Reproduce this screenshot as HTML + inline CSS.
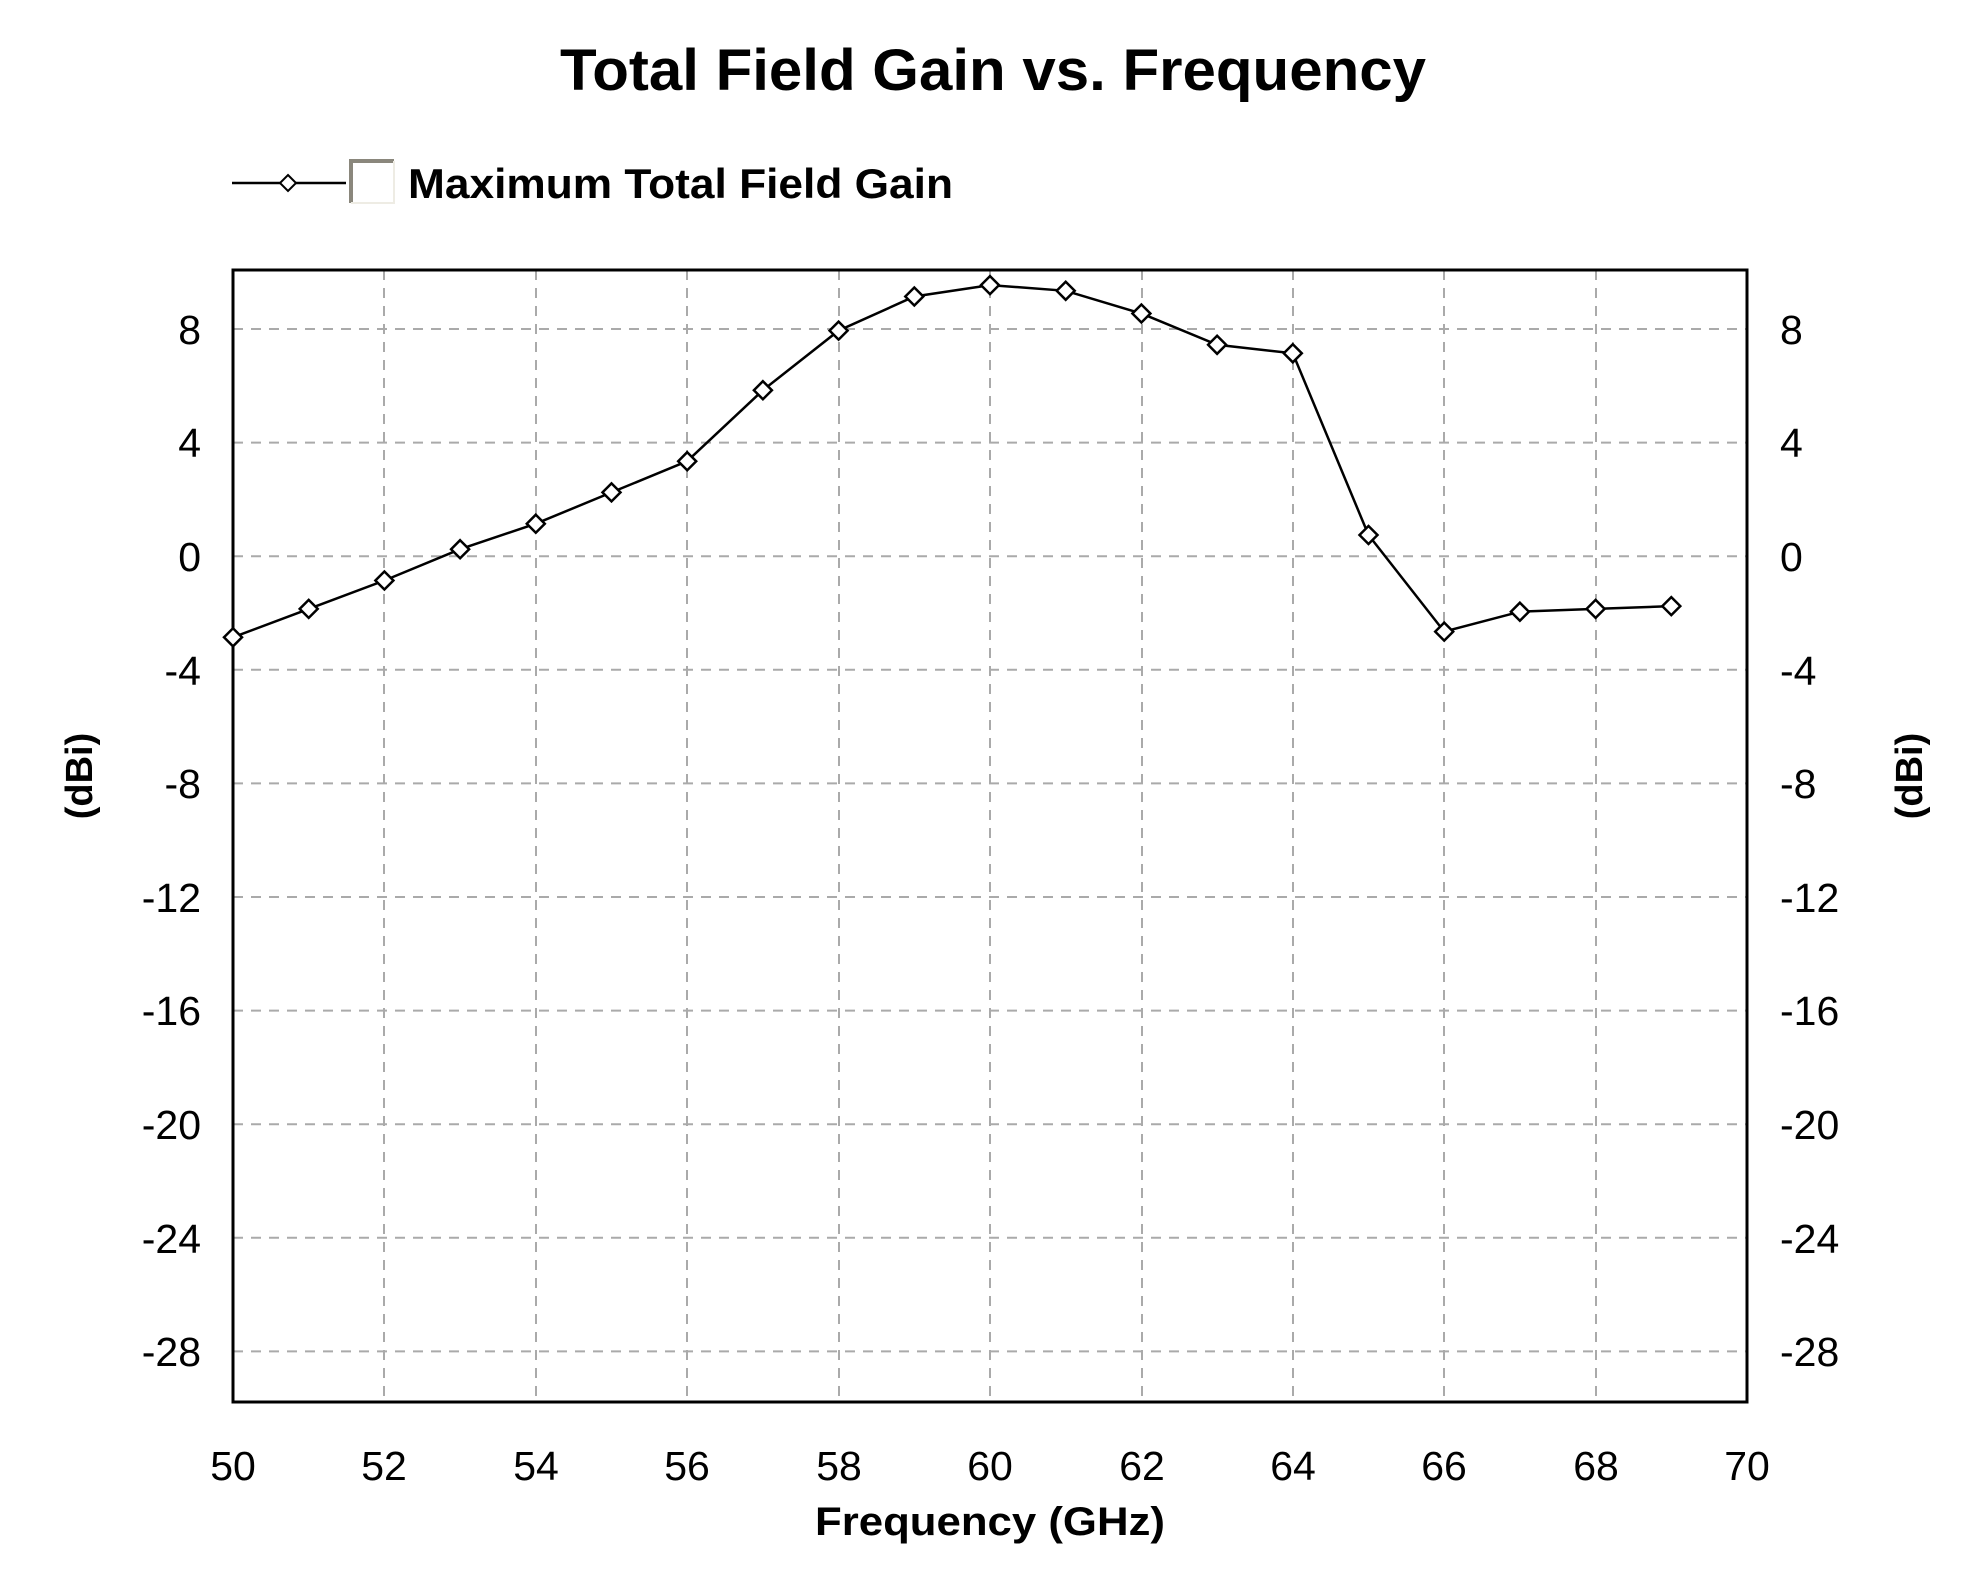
<!DOCTYPE html>
<html><head><meta charset="utf-8"><style>
html,body{margin:0;padding:0;background:#fff;}
svg{display:block;}
text{font-family:"Liberation Sans",Arial,sans-serif;fill:#000;}
</style></head><body>
<svg width="1971" height="1595" viewBox="0 0 1971 1595" xmlns="http://www.w3.org/2000/svg">
<rect width="1971" height="1595" fill="#fff"/>
<text x="993" y="90" font-size="58" font-weight="bold" text-anchor="middle" textLength="866" lengthAdjust="spacingAndGlyphs">Total Field Gain vs. Frequency</text>
<line x1="232" y1="183" x2="346" y2="183" stroke="#000" stroke-width="2.5"/>
<path d="M288 175 L296 183 L288 191 L280 183 Z" fill="#fff" stroke="#000" stroke-width="2"/>
<path d="M351 203 L351 161 L394 161" fill="none" stroke="#8a877c" stroke-width="4"/>
<path d="M351 203 L394 203 L394 161" fill="none" stroke="#eeece4" stroke-width="2"/>
<text x="408" y="198" font-size="42" font-weight="bold" textLength="545" lengthAdjust="spacingAndGlyphs">Maximum Total Field Gain</text>
<g stroke="#aaa" stroke-width="2" stroke-dasharray="10,8">
<line x1="384" y1="270" x2="384" y2="1402"/><line x1="536" y1="270" x2="536" y2="1402"/><line x1="687" y1="270" x2="687" y2="1402"/><line x1="839" y1="270" x2="839" y2="1402"/><line x1="990" y1="270" x2="990" y2="1402"/><line x1="1142" y1="270" x2="1142" y2="1402"/><line x1="1293" y1="270" x2="1293" y2="1402"/><line x1="1444" y1="270" x2="1444" y2="1402"/><line x1="1596" y1="270" x2="1596" y2="1402"/>
<line x1="233" y1="329" x2="1747" y2="329"/><line x1="233" y1="442.6" x2="1747" y2="442.6"/><line x1="233" y1="556.2" x2="1747" y2="556.2"/><line x1="233" y1="669.8" x2="1747" y2="669.8"/><line x1="233" y1="783.4" x2="1747" y2="783.4"/><line x1="233" y1="897" x2="1747" y2="897"/><line x1="233" y1="1010.6" x2="1747" y2="1010.6"/><line x1="233" y1="1124.2" x2="1747" y2="1124.2"/><line x1="233" y1="1237.8" x2="1747" y2="1237.8"/><line x1="233" y1="1351.4" x2="1747" y2="1351.4"/>
</g>
<rect x="233" y="270" width="1514" height="1132" fill="none" stroke="#000" stroke-width="3"/>
<g font-size="41" text-anchor="end">
<text x="201" y="344">8</text><text x="201" y="457">4</text><text x="201" y="571">0</text><text x="201" y="685">-4</text><text x="201" y="798">-8</text><text x="201" y="912">-12</text><text x="201" y="1025">-16</text><text x="201" y="1139">-20</text><text x="201" y="1253">-24</text><text x="201" y="1366">-28</text>
</g>
<g font-size="41">
<text x="1780" y="344">8</text><text x="1780" y="457">4</text><text x="1780" y="571">0</text><text x="1780" y="685">-4</text><text x="1780" y="798">-8</text><text x="1780" y="912">-12</text><text x="1780" y="1025">-16</text><text x="1780" y="1139">-20</text><text x="1780" y="1253">-24</text><text x="1780" y="1366">-28</text>
</g>
<g font-size="41" text-anchor="middle">
<text x="233" y="1480">50</text><text x="384" y="1480">52</text><text x="536" y="1480">54</text><text x="687" y="1480">56</text><text x="839" y="1480">58</text><text x="990" y="1480">60</text><text x="1142" y="1480">62</text><text x="1293" y="1480">64</text><text x="1444" y="1480">66</text><text x="1596" y="1480">68</text><text x="1747" y="1480">70</text>
</g>
<text x="990" y="1535" font-size="40" font-weight="bold" text-anchor="middle" textLength="350" lengthAdjust="spacingAndGlyphs">Frequency (GHz)</text>
<text transform="translate(92,776) rotate(-90)" font-size="38" font-weight="bold" text-anchor="middle">(dBi)</text>
<text transform="translate(1922,776) rotate(-90)" font-size="38" font-weight="bold" text-anchor="middle">(dBi)</text>
<polyline fill="none" stroke="#000" stroke-width="2.5" points="233,637.3 308.7,608.9 384.4,580.5 460.1,549.2 535.8,523.7 611.5,492.4 687.2,461.2 762.9,390.2 838.6,330.6 914.3,296.5 990,285.1 1065.7,290.8 1141.4,313.5 1217.1,344.8 1292.8,353.3 1368.5,535 1444.2,631.6 1519.9,611.7 1595.6,608.9 1671.3,606.1"/>
<g fill="#fff" stroke="#000" stroke-width="2.5">
<path d="M233 628.3l9 9-9 9-9-9z"/><path d="M308.7 599.9l9 9-9 9-9-9z"/><path d="M384.4 571.5l9 9-9 9-9-9z"/><path d="M460.1 540.2l9 9-9 9-9-9z"/><path d="M535.8 514.7l9 9-9 9-9-9z"/><path d="M611.5 483.4l9 9-9 9-9-9z"/><path d="M687.2 452.2l9 9-9 9-9-9z"/><path d="M762.9 381.2l9 9-9 9-9-9z"/><path d="M838.6 321.6l9 9-9 9-9-9z"/><path d="M914.3 287.5l9 9-9 9-9-9z"/><path d="M990 276.1l9 9-9 9-9-9z"/><path d="M1065.7 281.8l9 9-9 9-9-9z"/><path d="M1141.4 304.5l9 9-9 9-9-9z"/><path d="M1217.1 335.8l9 9-9 9-9-9z"/><path d="M1292.8 344.3l9 9-9 9-9-9z"/><path d="M1368.5 526l9 9-9 9-9-9z"/><path d="M1444.2 622.6l9 9-9 9-9-9z"/><path d="M1519.9 602.7l9 9-9 9-9-9z"/><path d="M1595.6 599.9l9 9-9 9-9-9z"/><path d="M1671.3 597.1l9 9-9 9-9-9z"/>
</g>
</svg>
</body></html>
